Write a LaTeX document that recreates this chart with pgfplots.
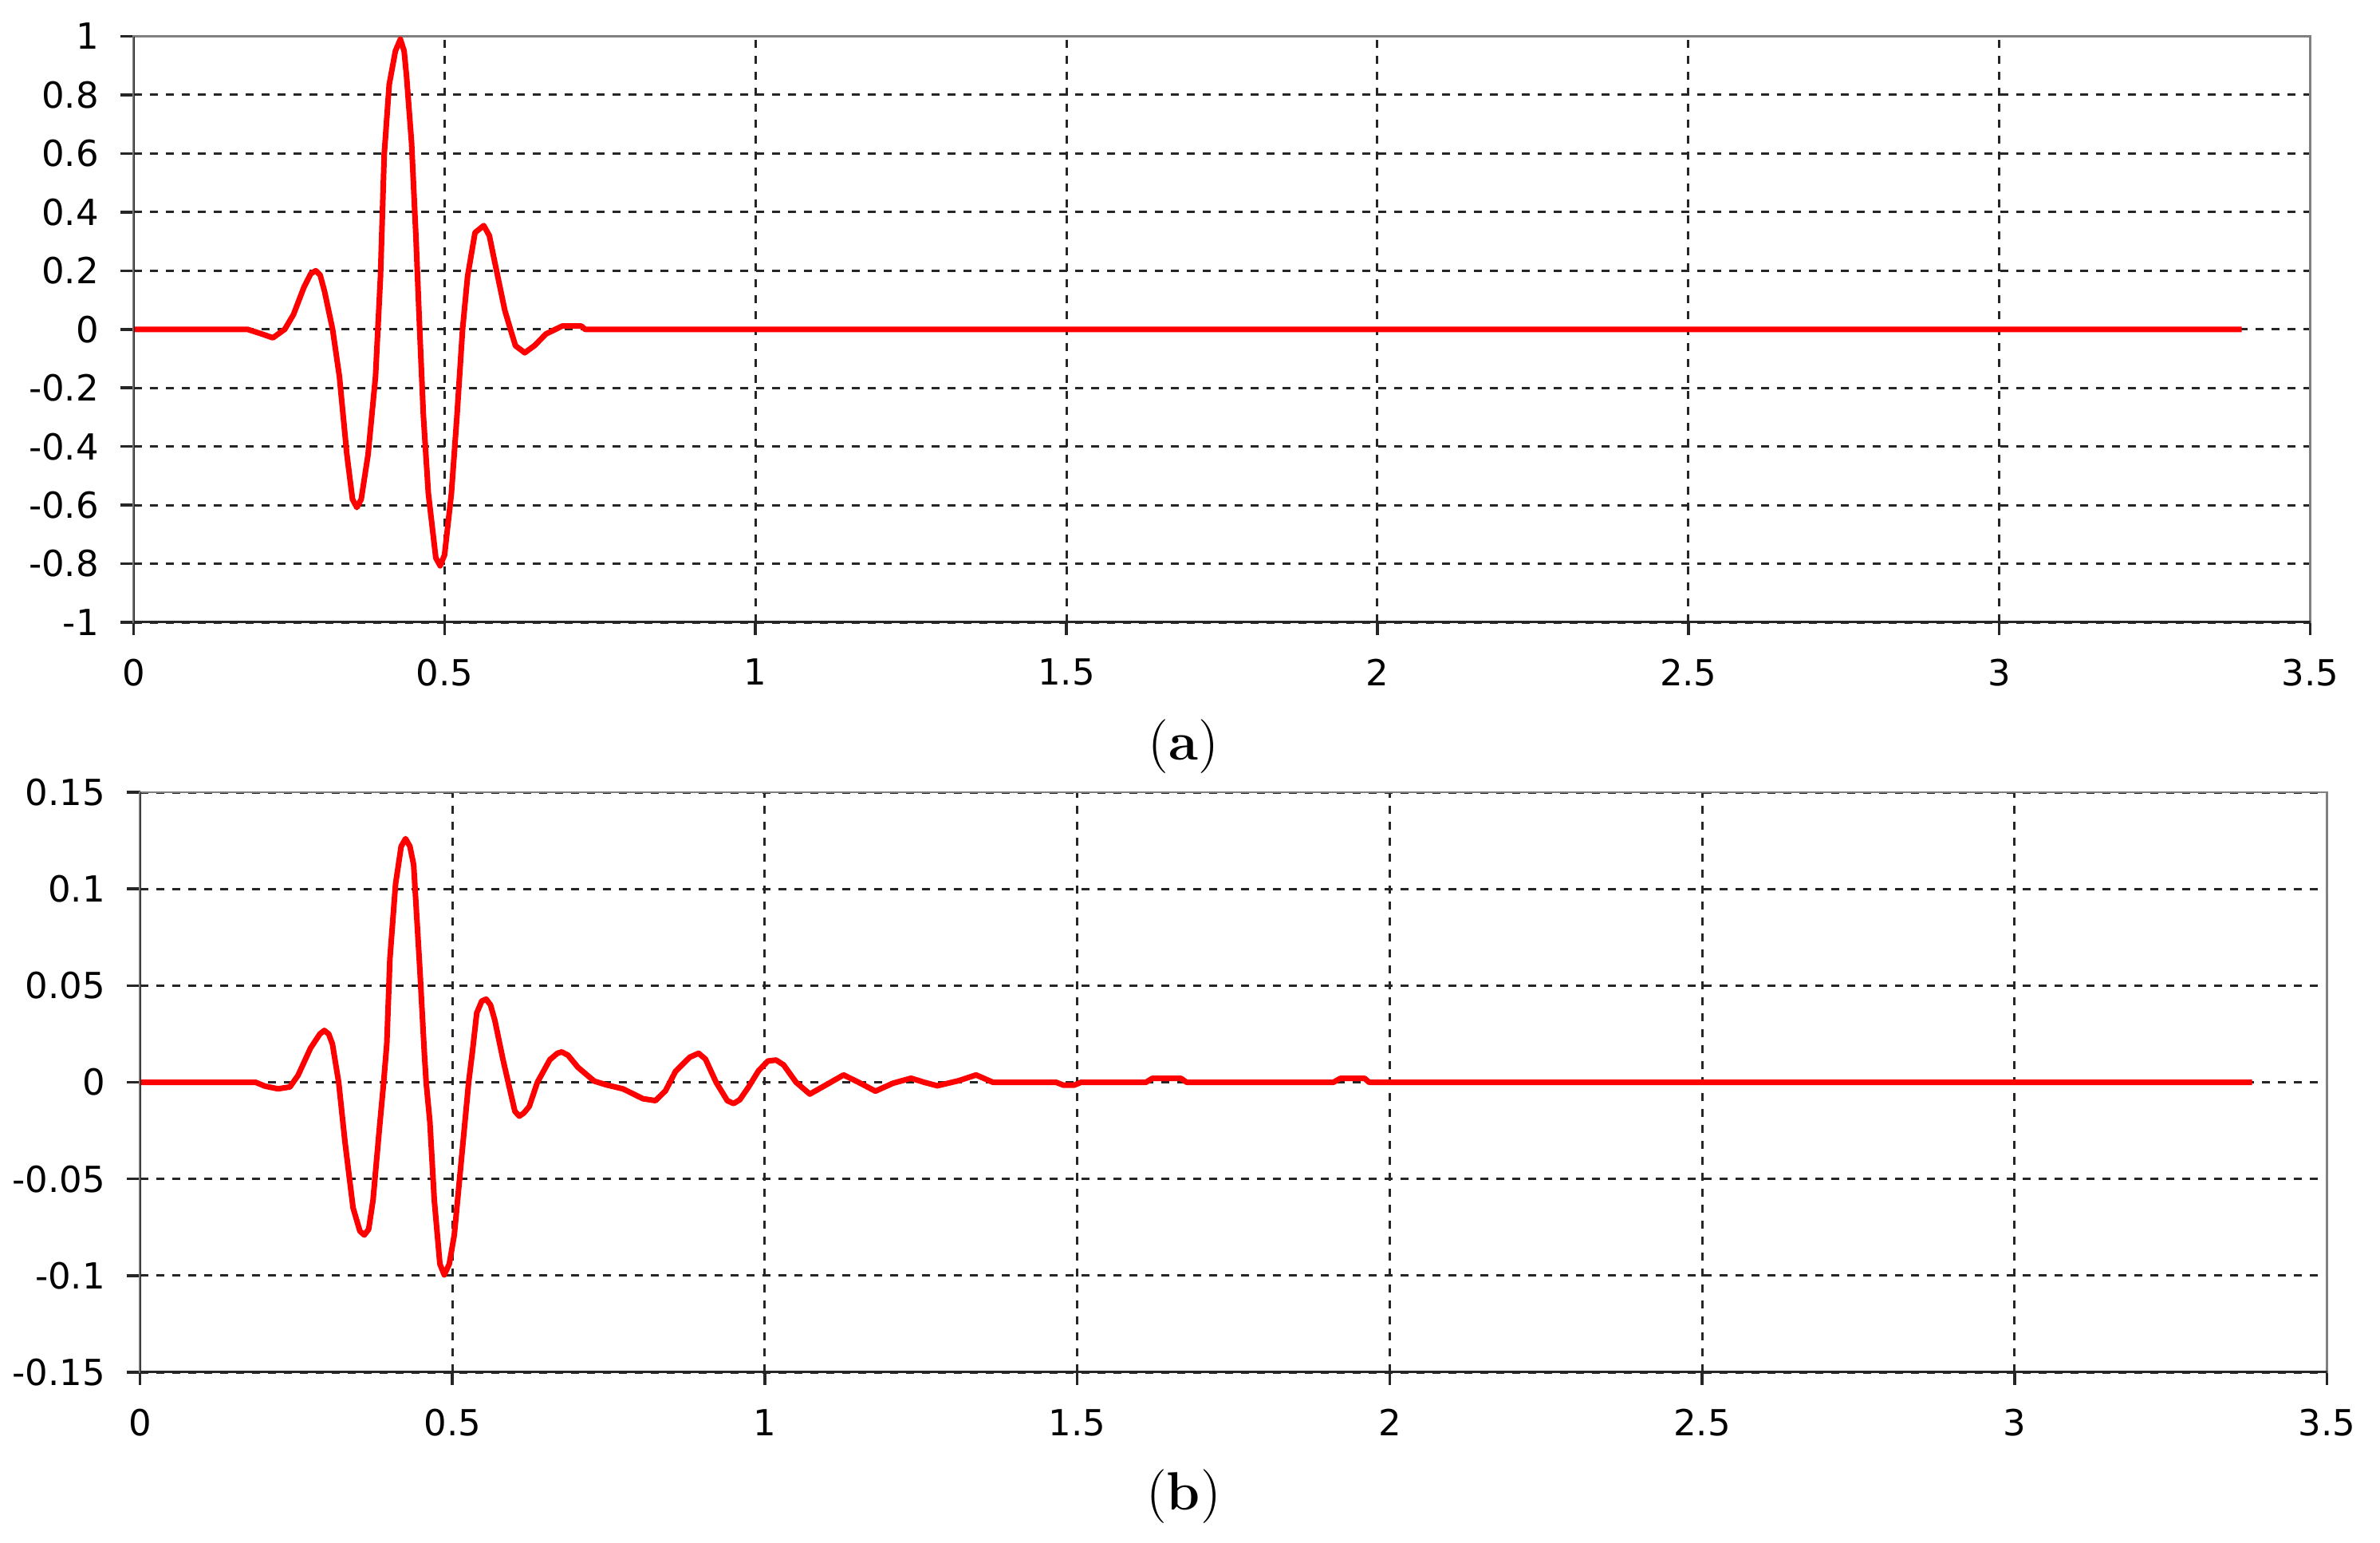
\documentclass[border=0pt]{standalone}
\usepackage{fontspec}
\usepackage{pgfplots}
\pgfplotsset{compat=1.18}
\newfontfamily\tickfont{DejaVu Sans}

\pgfplotsset{
  wave/.style={
    scale only axis,
    xmin=0, xmax=3.5,
    xtick={0,0.5,1,1.5,2,2.5,3,3.5},
    xticklabels={0,0.5,1,1.5,2,2.5,3,3.5},
    xmajorgrids, ymajorgrids,
    major grid style={black!85, line width=0.6pt, dash pattern=on 2pt off 2pt},
    axis line style={draw=black!50, line width=0.5pt},
    tick style={black!85, line width=0.7pt},
    major tick length=3.2pt,
    tick align=outside,
    xtick pos=lower, ytick pos=left,
    ticklabel style={font=\tickfont\fontsize{9}{11}\selectfont, text=black},
    xticklabel style={yshift=-2.5pt},
    yticklabel style={xshift=-2pt},
  },
  sig/.style={red, line width=1.4pt, line join=round},
}

\begin{document}
\begin{tikzpicture}
\useasboundingbox (0,0) rectangle (596.8pt,-386.6pt);

% (a)
\begin{axis}[wave,
    at={(33.5pt,-156pt)}, anchor=south west,
    width=545.8pt, height=146.9pt,
    ymin=-1, ymax=1,
    ytick={-1,-0.8,-0.6,-0.4,-0.2,0,0.2,0.4,0.6,0.8,1},
    yticklabels={-1,-0.8,-0.6,-0.4,-0.2,0,0.2,0.4,0.6,0.8,1},
]
\addplot[sig] coordinates {
(0,0)(0.183,0)(0.205,-0.015)(0.224,-0.029)(0.243,0)(0.257,0.05)(0.274,0.144)
(0.285,0.19)(0.293,0.2)(0.3,0.185)(0.307,0.13)(0.32,0)(0.331,-0.162)(0.343,-0.428)
(0.352,-0.58)(0.359,-0.608)(0.366,-0.58)(0.377,-0.428)(0.389,-0.162)(0.397,0.18)
(0.403,0.596)(0.411,0.835)(0.421,0.95)(0.429,0.99)(0.435,0.95)(0.439,0.862)
(0.447,0.636)(0.454,0.316)(0.46,0)(0.466,-0.295)(0.474,-0.561)(0.486,-0.78)
(0.493,-0.807)(0.5,-0.77)(0.511,-0.561)(0.52,-0.295)(0.529,0)(0.537,0.18)
(0.549,0.33)(0.563,0.354)(0.572,0.32)(0.58,0.237)(0.597,0.064)(0.606,0)
(0.614,-0.056)(0.629,-0.08)(0.645,-0.055)(0.663,-0.016)(0.689,0.011)(0.72,0.011)
(0.726,0)(3.39,0)
};
\draw[black!85, line width=0.7pt] (rel axis cs:0,1) -- (rel axis cs:0,0) -- (rel axis cs:1,0);
\end{axis}

% (b)
\begin{axis}[wave,
    at={(35.1pt,-344pt)}, anchor=south west,
    width=548.4pt, height=145.4pt,
    ymin=-0.15, ymax=0.15,
    ytick={-0.15,-0.1,-0.05,0,0.05,0.1,0.15},
    yticklabels={-0.15,-0.1,-0.05,0,0.05,0.1,0.15},
]
\addplot[sig] coordinates {
(0,0)(0.185,0)(0.2,-0.002)(0.221,-0.0034)(0.24,-0.0024)(0.253,0.0036)(0.273,0.0177)
(0.288,0.025)(0.295,0.0268)(0.302,0.025)(0.308,0.0198)(0.318,0)(0.328,-0.0306)
(0.341,-0.0649)(0.352,-0.077)(0.359,-0.079)(0.366,-0.076)(0.373,-0.0609)(0.383,-0.0246)
(0.39,0)(0.395,0.0198)(0.4,0.064)(0.409,0.1024)(0.418,0.122)(0.425,0.126)(0.432,0.122)
(0.438,0.1125)(0.448,0.058)(0.455,0.0157)(0.458,0)(0.464,-0.0206)(0.471,-0.0609)
(0.48,-0.094)(0.487,-0.0996)(0.495,-0.094)(0.503,-0.079)(0.513,-0.0448)(0.523,-0.0105)
(0.526,0)(0.532,0.0157)(0.539,0.0359)(0.547,0.042)(0.554,0.043)(0.561,0.04)(0.568,0.0319)
(0.581,0.0117)(0.591,-0.0024)(0.6,-0.015)(0.607,-0.0175)(0.614,-0.016)(0.623,-0.0125)
(0.636,0)(0.656,0.0117)(0.668,0.015)(0.675,0.0157)(0.685,0.014)(0.701,0.0077)
(0.727,0.0006)(0.747,-0.0014)(0.773,-0.0034)(0.805,-0.0085)(0.825,-0.0095)(0.841,-0.0044)
(0.857,0.0056)(0.88,0.013)(0.894,0.015)(0.905,0.012)(0.922,0)(0.94,-0.0095)(0.95,-0.011)
(0.96,-0.009)(0.974,-0.0024)(0.99,0.006)(1.005,0.011)(1.018,0.0115)(1.03,0.009)(1.05,0)
(1.072,-0.0061)(1.1,-0.001)(1.126,0.0038)(1.15,0)(1.177,-0.0046)(1.205,-0.0005)
(1.234,0.0021)(1.255,0)(1.276,-0.0018)(1.31,0.0008)(1.338,0.0038)(1.365,0)(1.466,0)
(1.478,-0.0015)(1.495,-0.0015)(1.506,0)(1.61,0)(1.62,0.002)(1.666,0.002)(1.675,0)
(1.91,0)(1.921,0.002)(1.96,0.002)(1.967,0)(3.38,0)
};
\draw[black!85, line width=0.7pt] (rel axis cs:0,1) -- (rel axis cs:0,0) -- (rel axis cs:1,0);
\end{axis}

\node[font=\fontsize{13.5}{16}\selectfont] at (296.8pt,-187.2pt) {(\textbf{a})};
\node[font=\fontsize{13.5}{16}\selectfont] at (296.8pt,-375.2pt) {(\textbf{b})};
\end{tikzpicture}
\end{document}
